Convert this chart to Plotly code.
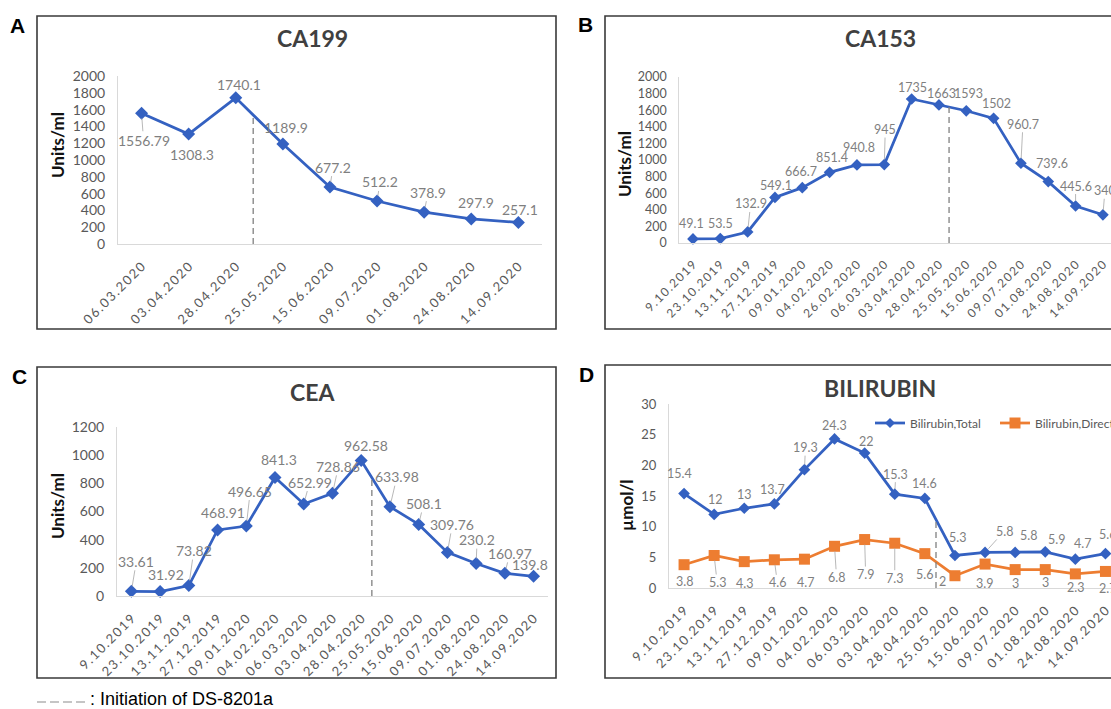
import plotly.graph_objects as go
from datetime import datetime

W, H = 1111, 709
BLUE = "#3461C1"
ORANGE = "#ED7D31"
TICK_C = "#595959"
LABEL_C = "#7F7F7F"
AXIS_C = "#D9D9D9"
FONT = "Lato"

# ---------------- data ----------------
A_DATES = ["06.03.2020", "03.04.2020", "28.04.2020", "25.05.2020", "15.06.2020",
           "09.07.2020", "01.08.2020", "24.08.2020", "14.09.2020"]
A_CA199 = [1556.79, 1308.3, 1740.1, 1189.9, 677.2, 512.2, 378.9, 297.9, 257.1]

B_DATES = ["9.10.2019", "23.10.2019", "13.11.2019", "27.12.2019", "09.01.2020",
           "04.02.2020", "26.02.2020", "06.03.2020", "03.04.2020", "28.04.2020",
           "25.05.2020", "15.06.2020", "09.07.2020", "01.08.2020", "24.08.2020",
           "14.09.2020"]
B_CA153 = [49.1, 53.5, 132.9, 549.1, 666.7, 851.4, 940.8, 945, 1735, 1663,
           1593, 1502, 960.7, 739.6, 445.6, 340]

C_DATES = ["9.10.2019", "23.10.2019", "13.11.2019", "27.12.2019", "09.01.2020",
           "04.02.2020", "06.03.2020", "03.04.2020", "28.04.2020", "25.05.2020",
           "15.06.2020", "09.07.2020", "01.08.2020", "24.08.2020", "14.09.2020"]
C_CEA = [33.61, 31.92, 73.82, 468.91, 496.65, 841.3, 652.99, 728.86, 962.58,
         633.98, 508.1, 309.76, 230.2, 160.97, 139.8]

D_DATES = ["9.10.2019", "23.10.2019", "13.11.2019", "27.12.2019", "09.01.2020",
           "04.02.2020", "06.03.2020", "03.04.2020", "28.04.2020", "25.05.2020",
           "15.06.2020", "09.07.2020", "01.08.2020", "24.08.2020", "14.09.2020"]
D_TOTAL = [15.4, 12, 13, 13.7, 19.3, 24.3, 22, 15.3, 14.6, 5.3, 5.8, 5.8, 5.9, 4.7, 5.6]
D_DIRECT = [3.8, 5.3, 4.3, 4.6, 4.7, 6.8, 7.9, 7.3, 5.6, 2, 3.9, 3, 3, 2.3, 2.7]
D_SERIES = ["Bilirubin,Total", "Bilirubin,Direct"]

INITIATION_DATE = "08.05.2020"

# ------------- label placement (pixel offsets, leader flag) -------------
A_OFF = [(2, 27), (3, 20), (3, -13), (3, -17), (3, -20), (3, -19), (4, -20), (5, -16), (2, -13)]
A_LEAD = [1, 0, 0, 0, 1, 1, 1, 0, 0]
B_OFF = [(-1, -15), (0, -15), (3, -28), (1, -12), (-1, -16), (2, -15), (2, -17), (1, -35),
         (1, -11), (3, -11), (2, -17), (3, -15), (2, -39), (4, -18), (0, -20), (2, -24)]
B_LEAD = [0, 0, 1, 0, 0, 0, 0, 1, 0, 0, 0, 0, 1, 0, 1, 1]
C_OFF = [(5, -30), (6, -17), (5, -35), (5, -17), (4, -35), (4, -18), (6, -22), (6, -27),
         (5, -15), (7, -30), (5, -21), (5, -28), (1, -24), (5, -20), (-4, -12)]
C_LEAD = [1, 0, 1, 0, 1, 0, 1, 1, 0, 1, 1, 1, 1, 1, 0]
DT_OFF = [(-5, -20), (1, -15), (0, -14), (-2, -14), (1, -22), (0, -13), (2, -12), (1, -20),
          (0, -15), (3, -18), (19, -21), (13, -17), (11, -12), (7, -16), (2, -19)]
DT_LEAD = [0, 0, 0, 0, 1, 0, 0, 1, 0, 0, 1, 0, 0, 0, 0]
DD_OFF = [(0, 17), (3, 27), (0, 22), (3, 23), (1, 23), (2, 31), (1, 35), (0, 35),
          (0, 21), (-12, 6), (-1, 19), (0, 14), (0, 13), (0, 14), (2, 17)]
DD_LEAD = [0, 1, 0, 1, 0, 1, 1, 1, 0, 0, 0, 0, 0, 0, 0]


def spaced(s):
    return "\u2009".join(s)


def initiation(dates, vals):
    d = [datetime.strptime(s, "%d.%m.%Y") for s in dates]
    t = datetime.strptime(INITIATION_DATE, "%d.%m.%Y")
    for i in range(len(d) - 1):
        if d[i] <= t < d[i + 1]:
            f = (t - d[i]).days / (d[i + 1] - d[i]).days
            return i + f, vals[i] + f * (vals[i + 1] - vals[i])
    return None, None


fig = go.Figure()
annotations = []
shapes = []


def make_axes(k, dates, x0, step, ytop, ybot, ymax, dtick, yfs, xfs):
    n = len(dates)
    x1 = min(x0 + step * n, W)
    rng = [-0.5, -0.5 + (x1 - x0) / step]
    xname = "xaxis" if k == 1 else f"xaxis{k}"
    yname = "yaxis" if k == 1 else f"yaxis{k}"
    xa = dict(domain=[x0 / W, x1 / W], range=rng, tickvals=list(range(n)),
              ticktext=[spaced(s) for s in dates], tickangle=-45,
              tickfont=dict(family=FONT, size=xfs, color=TICK_C),
              showline=True, linecolor=AXIS_C, linewidth=1, showgrid=False,
              zeroline=False, ticks="", ticklabelstandoff=9, fixedrange=True,
              ticklabeloverflow="allow",
              automargin=False, anchor="y" if k == 1 else f"y{k}")
    ya = dict(domain=[1 - ybot / H, 1 - ytop / H], range=[0, ymax], dtick=dtick,
              tickfont=dict(family=FONT, size=yfs, color=TICK_C),
              showline=True, linecolor=AXIS_C, linewidth=1, showgrid=False,
              zeroline=False, ticks="", ticklabelstandoff=9, fixedrange=True,
              automargin=False, anchor="x" if k == 1 else f"x{k}")
    fig.update_layout(**{xname: xa, yname: ya})


def add_series(k, vals, color, symbol, msize, name):
    fig.add_trace(go.Scatter(
        x=list(range(len(vals))), y=vals, mode="lines+markers", name=name,
        line=dict(color=color, width=2.75),
        marker=dict(symbol=symbol, size=msize, color=color),
        cliponaxis=False, showlegend=False,
        xaxis="x" if k == 1 else f"x{k}", yaxis="y" if k == 1 else f"y{k}"))


def add_labels(k, vals, offs, leads, fs):
    xr = "x" if k == 1 else f"x{k}"
    yr = "y" if k == 1 else f"y{k}"
    for i, v in enumerate(vals):
        dx, dy = offs[i]
        txt = f"{v:g}"
        f = dict(family=FONT, size=fs, color=LABEL_C)
        if leads[i]:
            annotations.append(dict(x=i, y=v, xref=xr, yref=yr, text=txt, font=f,
                                    showarrow=True, ax=dx, ay=dy, axref="pixel", ayref="pixel",
                                    arrowhead=0, arrowwidth=0.8, arrowcolor="#A6A6A6",
                                    standoff=5, borderpad=0))
        else:
            annotations.append(dict(x=i, y=v, xref=xr, yref=yr, text=txt, font=f,
                                    showarrow=False, xshift=dx, yshift=-dy, borderpad=0))


def add_initiation(k, dates, vals):
    pos, top = initiation(dates, vals)
    xr = "x" if k == 1 else f"x{k}"
    yr = "y" if k == 1 else f"y{k}"
    shapes.append(dict(type="line", xref=xr, yref=yr, x0=pos, x1=pos, y0=0, y1=top,
                       line=dict(color="#808080", width=1.3, dash="6px,4px")))


def paper_text(px, py, text, size, color, family=FONT, angle=0, xanchor="center"):
    annotations.append(dict(x=px / W, y=1 - py / H, xref="paper", yref="paper",
                            text=text, showarrow=False, textangle=angle,
                            xanchor=xanchor, yanchor="middle",
                            font=dict(family=family, size=size, color=color)))


def frame(x0, y0, x1, y1):
    shapes.append(dict(type="rect", xref="paper", yref="paper",
                       x0=x0 / W, x1=x1 / W, y0=1 - y1 / H, y1=1 - y0 / H,
                       line=dict(color="#3A3A3A", width=1.6), fillcolor="rgba(0,0,0,0)"))


def legend_item(px, py, color, symbol, label):
    shapes.append(dict(type="line", xref="paper", yref="paper",
                       x0=px / W, x1=(px + 30) / W, y0=1 - py / H, y1=1 - py / H,
                       line=dict(color=color, width=2.75)))
    cx, cy = px + 15, py
    if symbol == "diamond":
        r = 5
        path = (f"M {cx / W},{1 - (cy - r) / H} L {(cx + r) / W},{1 - cy / H} "
                f"L {cx / W},{1 - (cy + r) / H} L {(cx - r) / W},{1 - cy / H} Z")
        shapes.append(dict(type="path", xref="paper", yref="paper", path=path,
                           fillcolor=color, line=dict(color=color, width=0)))
    else:
        r = 5.5
        shapes.append(dict(type="rect", xref="paper", yref="paper",
                           x0=(cx - r) / W, x1=(cx + r) / W,
                           y0=1 - (cy + r) / H, y1=1 - (cy - r) / H,
                           fillcolor=color, line=dict(color=color, width=0)))
    paper_text(px + 33, py, label, 12, TICK_C, xanchor="left")


# Panel A
make_axes(1, A_DATES, 118, 47.1, 76, 244, 2000, 200, 14, 13)
add_series(1, A_CA199, BLUE, "diamond", 10, "CA199")
add_labels(1, A_CA199, A_OFF, A_LEAD, 14)
add_initiation(1, A_DATES, A_CA199)

# Panel B
make_axes(2, B_DATES, 679.3, 27.33, 77, 243, 2000, 200, 12.5, 12)
add_series(2, B_CA153, BLUE, "diamond", 9, "CA153")
add_labels(2, B_CA153, B_OFF, B_LEAD, 12.5)
add_initiation(2, B_DATES, B_CA153)

# Panel C
make_axes(3, C_DATES, 117, 28.73, 427, 596, 1200, 200, 14, 13)
add_series(3, C_CEA, BLUE, "diamond", 10, "CEA")
add_labels(3, C_CEA, C_OFF, C_LEAD, 14)
add_initiation(3, C_DATES, C_CEA)

# Panel D
make_axes(4, D_DATES, 669, 30.1, 404, 588, 30, 5, 13, 13)
add_series(4, D_TOTAL, BLUE, "diamond", 9, D_SERIES[0])
add_series(4, D_DIRECT, ORANGE, "square", 11, D_SERIES[1])
add_labels(4, D_TOTAL, DT_OFF, DT_LEAD, 12.5)
add_labels(4, D_DIRECT, DD_OFF, DD_LEAD, 12.5)
add_initiation(4, D_DATES, D_TOTAL)
legend_item(875, 423, BLUE, "diamond", D_SERIES[0])
legend_item(1000, 423, ORANGE, "square", D_SERIES[1])

# frames
frame(37, 16, 556, 329)
frame(605, 16, 1140, 329)
frame(37, 367, 556, 678)
frame(605, 365, 1140, 678)

# panel letters
for (px, py, t) in [(17, 26, "A"), (585, 25, "B"), (19, 377, "C"), (586, 375, "D")]:
    paper_text(px, py, f"<b>{t}</b>", 21, "#000000", family="Liberation Sans")

# titles
paper_text(312, 38, "<b>CA199</b>", 23, "#404040")
paper_text(880, 38, "<b>CA153</b>", 23, "#404040")
paper_text(312, 392, "<b>CEA</b>", 23, "#404040")
paper_text(880, 388, "<b>BILIRUBIN</b>", 23, "#404040")

# y titles
paper_text(57, 145, "<b>Units/ml</b>", 17, "#111111", angle=-90)
paper_text(625, 164, "<b>Units/ml</b>", 17, "#111111", angle=-90)
paper_text(57, 506, "<b>Units/ml</b>", 17, "#111111", angle=-90)
paper_text(626, 505, "<b>µmol/l</b>", 17, "#111111", angle=-90)

# bottom note
shapes.append(dict(type="line", xref="paper", yref="paper", x0=37 / W, x1=87 / W,
                   y0=1 - 702 / H, y1=1 - 702 / H,
                   line=dict(color="#8C8C8C", width=1.2, dash="9px,4px")))
paper_text(88, 699, ": Initiation of DS-8201a", 18, "#000000",
           family="Liberation Sans", xanchor="left")

fig.update_layout(
    width=W, height=H, margin=dict(l=0, r=0, t=0, b=0, autoexpand=False),
    paper_bgcolor="white", plot_bgcolor="white", showlegend=False,
    annotations=annotations, shapes=shapes,
)

fig.write_html("out.html", config={"displayModeBar": False},
               post_script="document.body.style.margin='0';document.body.style.overflow='hidden';")
